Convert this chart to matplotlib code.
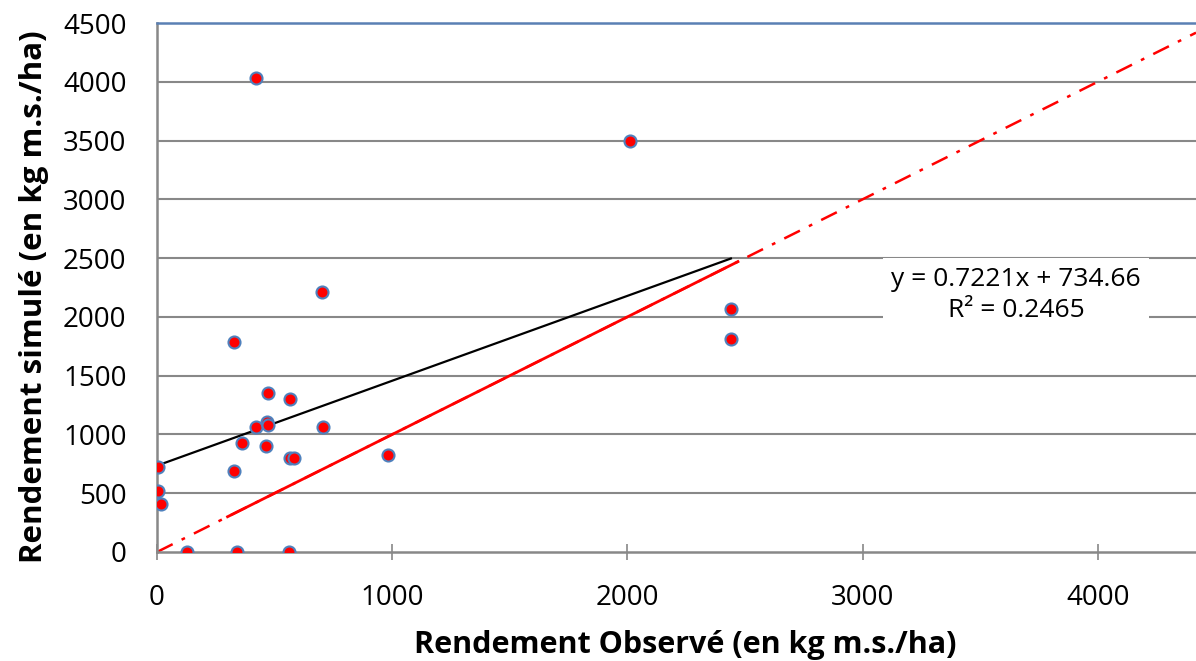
import matplotlib
matplotlib.use("Agg")
import matplotlib.pyplot as plt
import numpy as np

# Data (observed vs simulated yield, kg m.s./ha)
observed = [420, 2010, 700, 2440, 2440, 329, 470, 564, 421, 468, 470, 704,
            361, 462, 564, 584, 983, 4, 327, 4, 17, 126, 339, 562]
simulated = [4030, 3495, 2215, 2070, 1810, 1789, 1349, 1298, 1060, 1108, 1080, 1060,
             927, 904, 802, 802, 825, 725, 691, 521, 408, 0, 0, 0]

slope = 0.7221
intercept = 734.66
r2 = 0.2465

x_ticks = [0, 1000, 2000, 3000, 4000]
y_ticks = [0, 500, 1000, 1500, 2000, 2500, 3000, 3500, 4000, 4500]

plt.rcParams['font.family'] = ['Open Sans', 'DejaVu Sans']

fig = plt.figure(figsize=(11.96, 6.61), dpi=100)
ax = fig.add_axes([157/1196, 1-552/661, (1196-157)/1196, (552-23)/661])
xmax = (1196-157)/0.2352
ax.set_xlim(0, xmax)
ax.set_ylim(0, 4500)

# gridlines
for yv in y_ticks[1:-1]:
    ax.axhline(yv, color='#888888', lw=1.5, zorder=1)

# 1:1 line
xl = np.array([0, xmax])
ax.plot(xl, xl, color='#FF0000', lw=1.8, dashes=(7, 4, 1.5, 4), zorder=2)
xs = np.array([300, 2470])
ax.plot(xs, xs, color='#FF0000', lw=2.0, zorder=2)

# trendline
xt = np.array([0, max(observed)])
ax.plot(xt, slope*xt + intercept, color='black', lw=1.6, zorder=3)

ax.scatter(observed, simulated, s=75, c='#FF0000', edgecolors='#4F81BD',
           linewidths=1.5, zorder=4)

ax.text(3652, 2188, f"y = {slope}x + {intercept}\nR² = {r2}", ha='center', va='center',
        fontsize=19, linespacing=1.3,
        bbox=dict(facecolor='white', edgecolor='none', pad=6), zorder=5)

ax.set_xticks(x_ticks)
ax.set_yticks(y_ticks)
ax.tick_params(axis='x', direction='inout', length=12, width=1.2, color='#888888',
               labelsize=20, pad=17)
ax.tick_params(axis='y', length=0, labelsize=20, pad=22)

ax.spines['right'].set_visible(False)
ax.spines['top'].set_color('#5A80B4')
ax.spines['top'].set_linewidth(1.8)
ax.spines['left'].set_color('#888888')
ax.spines['left'].set_linewidth(1.8)
ax.spines['bottom'].set_color('#888888')
ax.spines['bottom'].set_linewidth(1.8)

ax.set_xlabel('Rendement Observé (en kg m.s./ha)', fontsize=22, fontweight='bold', labelpad=13)
ax.set_ylabel('Rendement simulé (en kg m.s./ha)', fontsize=22.5, fontweight='bold', labelpad=10)
ax.xaxis.label.set_x((685-157)/1039)
ax.yaxis.label.set_y((552-297)/529)

fig.savefig('out.png', dpi=100)
